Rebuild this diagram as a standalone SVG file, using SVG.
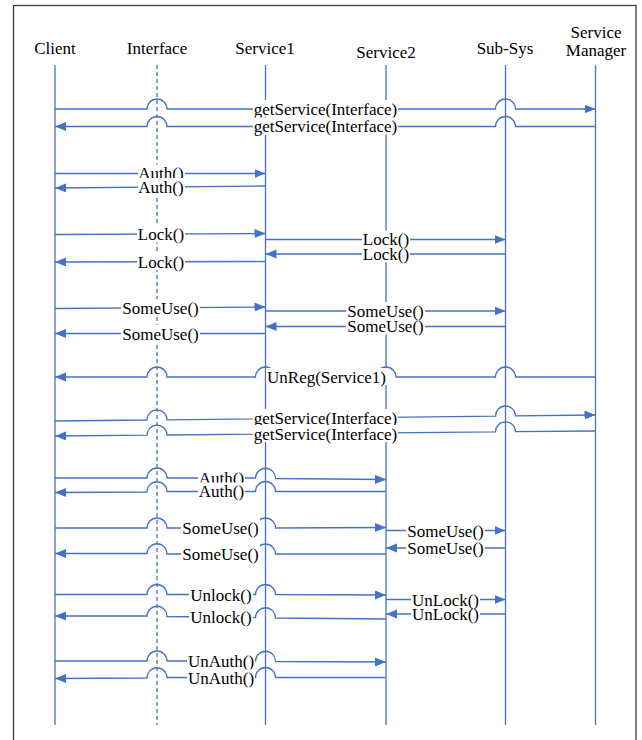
<svg xmlns="http://www.w3.org/2000/svg" width="642" height="740" viewBox="0 0 642 740">
<style>
.life{stroke:#4472C4;stroke-width:1.3;fill:none}
.dash{stroke-dasharray:4,3}
.msg{stroke:#4472C4;stroke-width:1.3;fill:none}
.arr{marker-end:url(#ah)}
.hd{font-family:"Liberation Serif","Times New Roman",serif;font-size:17px;fill:#000;text-anchor:middle}
.lb{font-family:"Liberation Serif","Times New Roman",serif;font-size:17px;fill:#000;text-anchor:middle}
.bg{fill:#fff}
</style>
<defs>
<marker id="ah" markerUnits="userSpaceOnUse" markerWidth="12" markerHeight="10" refX="11" refY="4.5" orient="auto">
<path d="M0,0 L11,4.5 L0,9 z" fill="#4472C4"/>
</marker>
</defs>
<rect x="0" y="0" width="642" height="740" fill="#fff"/>
<rect x="13.5" y="5.5" width="622.5" height="760" fill="none" stroke="#3a3a3a" stroke-width="1.3"/>

<g id="client"><line class="life" x1="55" y1="65" x2="55" y2="725"/><text class="hd" x="55" y="54">Client</text></g>
<g id="interface"><line class="life dash" x1="157" y1="65" x2="157" y2="725"/><text class="hd" x="157" y="54">Interface</text></g>
<g id="service1"><line class="life" x1="265.5" y1="65" x2="265.5" y2="725"/><text class="hd" x="265" y="54">Service1</text></g>
<g id="service2"><line class="life" x1="386" y1="65" x2="386" y2="725"/><text class="hd" x="386" y="58">Service2</text></g>
<g id="subsys"><line class="life" x1="505.5" y1="65" x2="505.5" y2="725"/><text class="hd" x="505" y="54">Sub-Sys</text></g>
<g id="servicemanager"><line class="life" x1="595.5" y1="65" x2="595.5" y2="725"/><text class="hd" x="596" y="38">Service</text><text class="hd" x="596" y="56">Manager</text></g>

<g id="connectors">
<path class="msg arr" d="M55,109 H147 A10,10 0 0 1 167,109 H495.5 A10,10 0 0 1 515.5,109 H595.5"/>
<path class="msg arr" d="M595.5,126.5 H515.5 A10,10 0 0 0 495.5,126.5 H167 A10,10 0 0 0 147,126.5 H55"/>
<path class="msg arr" d="M55,173.5 H265.5"/>
<path class="msg arr" d="M265.5,186 L55,188"/>
<path class="msg arr" d="M55,234.5 L265.5,233.5"/>
<path class="msg arr" d="M265.5,239.5 H505.5"/>
<path class="msg arr" d="M505.5,254 H265.5"/>
<path class="msg arr" d="M265.5,261.5 L55,262"/>
<path class="msg arr" d="M55,308.5 L265.5,307"/>
<path class="msg arr" d="M265.5,311 H505.5"/>
<path class="msg arr" d="M505.5,326.5 H265.5"/>
<path class="msg arr" d="M265.5,333.5 H55"/>
<path class="msg arr" d="M595.5,377 H515.5 A10,10 0 0 0 495.5,377 H396 A10,10 0 0 0 376,377 H275.5 A10,10 0 0 0 255.5,377 H167 A10,10 0 0 0 147,377 H55"/>
<path class="msg arr" d="M55,421 L147,420 A10,10 0 0 1 167,419.8 L495.5,416.1 A10,10 0 0 1 515.5,415.9 L595.5,415"/>
<path class="msg arr" d="M595.5,431 L515.5,431.7 A10,10 0 0 0 495.5,431.9 L167,435 A10,10 0 0 0 147,435.2 L55,436"/>
<path class="msg arr" d="M55,478 H147 A10,10 0 0 1 167,478 H255.5 A10,10 0 0 1 275.5,478.5 L386,479.5"/>
<path class="msg arr" d="M386,491.5 H275.5 A10,10 0 0 0 255.5,491.5 H167 A10,10 0 0 0 147,492 L55,492.5"/>
<path class="msg arr" d="M55,528 H147 A10,10 0 0 1 167,528 H255.5 A10,10 0 0 1 275.5,528 L386,527.5"/>
<path class="msg arr" d="M386,530.5 H505.5"/>
<path class="msg arr" d="M505.5,548 H386"/>
<path class="msg arr" d="M386,554 H275.5 A10,10 0 0 0 255.5,554 H167 A10,10 0 0 0 147,553.5 L55,553.5"/>
<path class="msg arr" d="M55,594.5 H147 A10,10 0 0 1 167,594.5 H255.5 A10,10 0 0 1 275.5,594.5 L386,595"/>
<path class="msg arr" d="M386,599.5 H505.5"/>
<path class="msg arr" d="M505.5,614 H386"/>
<path class="msg arr" d="M386,619 L275.5,618 A10,10 0 0 0 255.5,617.5 L167,616.5 A10,10 0 0 0 147,616 L55,616"/>
<path class="msg arr" d="M55,661 H147 A10,10 0 0 1 167,661 H255.5 A10,10 0 0 1 275.5,661.5 L386,662"/>
<path class="msg arr" d="M386,677.5 H275.5 A10,10 0 0 0 255.5,677.5 H167 A10,10 0 0 0 147,678 L55,678.5"/>
</g>

<g id="labels">
<rect class="bg" x="253" y="100" width="145" height="17"/><text class="lb" x="325.5" y="114.5">getService(Interface)</text>
<rect class="bg" x="253" y="117.5" width="145" height="17"/><text class="lb" x="325.5" y="132">getService(Interface)</text>

<rect class="bg" x="138" y="164.5" width="47" height="17"/><text class="lb" x="161" y="179">Auth()</text>
<rect class="bg" x="138" y="178" width="47" height="17"/><text class="lb" x="161" y="192.5">Auth()</text>

<rect class="bg" x="137" y="225.5" width="48" height="17"/><text class="lb" x="161" y="240">Lock()</text>
<rect class="bg" x="362" y="245" width="48" height="17"/><text class="lb" x="386" y="259.5">Lock()</text>
<rect class="bg" x="362" y="230.5" width="48" height="17"/><text class="lb" x="386" y="245">Lock()</text>
<rect class="bg" x="137" y="253" width="48" height="17"/><text class="lb" x="161" y="267.5">Lock()</text>

<rect class="bg" x="121" y="299" width="79" height="17"/><text class="lb" x="160.5" y="313.5">SomeUse()</text>
<rect class="bg" x="346" y="317.5" width="79" height="17"/><text class="lb" x="385.5" y="332">SomeUse()</text>
<rect class="bg" x="346" y="302" width="79" height="17"/><text class="lb" x="385.5" y="316.5">SomeUse()</text>
<rect class="bg" x="121" y="325" width="79" height="17"/><text class="lb" x="160.5" y="339.5">SomeUse()</text>

<rect class="bg" x="266" y="368" width="121" height="17"/><text class="lb" x="326.5" y="382.5">UnReg(Service1)</text>

<rect class="bg" x="253" y="409" width="145" height="17"/><text class="lb" x="325.5" y="423.5">getService(Interface)</text>
<rect class="bg" x="253" y="425" width="145" height="17"/><text class="lb" x="325.5" y="439.5">getService(Interface)</text>

<rect class="bg" x="198" y="469.5" width="47" height="17"/><text class="lb" x="221.5" y="484">Auth()</text>
<rect class="bg" x="198" y="482.5" width="47" height="17"/><text class="lb" x="221.5" y="497">Auth()</text>

<rect class="bg" x="181" y="519" width="79" height="17"/><text class="lb" x="220.5" y="533.5">SomeUse()</text>
<rect class="bg" x="406" y="539.5" width="79" height="17"/><text class="lb" x="445.5" y="554">SomeUse()</text>
<rect class="bg" x="406" y="522" width="79" height="17"/><text class="lb" x="445.5" y="536.5">SomeUse()</text>
<rect class="bg" x="181" y="545" width="79" height="17"/><text class="lb" x="220.5" y="559.5">SomeUse()</text>

<rect class="bg" x="189" y="586" width="64" height="17"/><text class="lb" x="221" y="600.5">Unlock()</text>
<rect class="bg" x="411" y="605.5" width="69" height="17"/><text class="lb" x="445.5" y="620">UnLock()</text>
<rect class="bg" x="411" y="591" width="69" height="17"/><text class="lb" x="445.5" y="605.5">UnLock()</text>
<rect class="bg" x="189" y="608" width="64" height="17"/><text class="lb" x="221" y="622.5">Unlock()</text>

<rect class="bg" x="187" y="652.5" width="68" height="17"/><text class="lb" x="221" y="667">UnAuth()</text>
<rect class="bg" x="187" y="669.5" width="68" height="17"/><text class="lb" x="221" y="684">UnAuth()</text>
</g>
</svg>
